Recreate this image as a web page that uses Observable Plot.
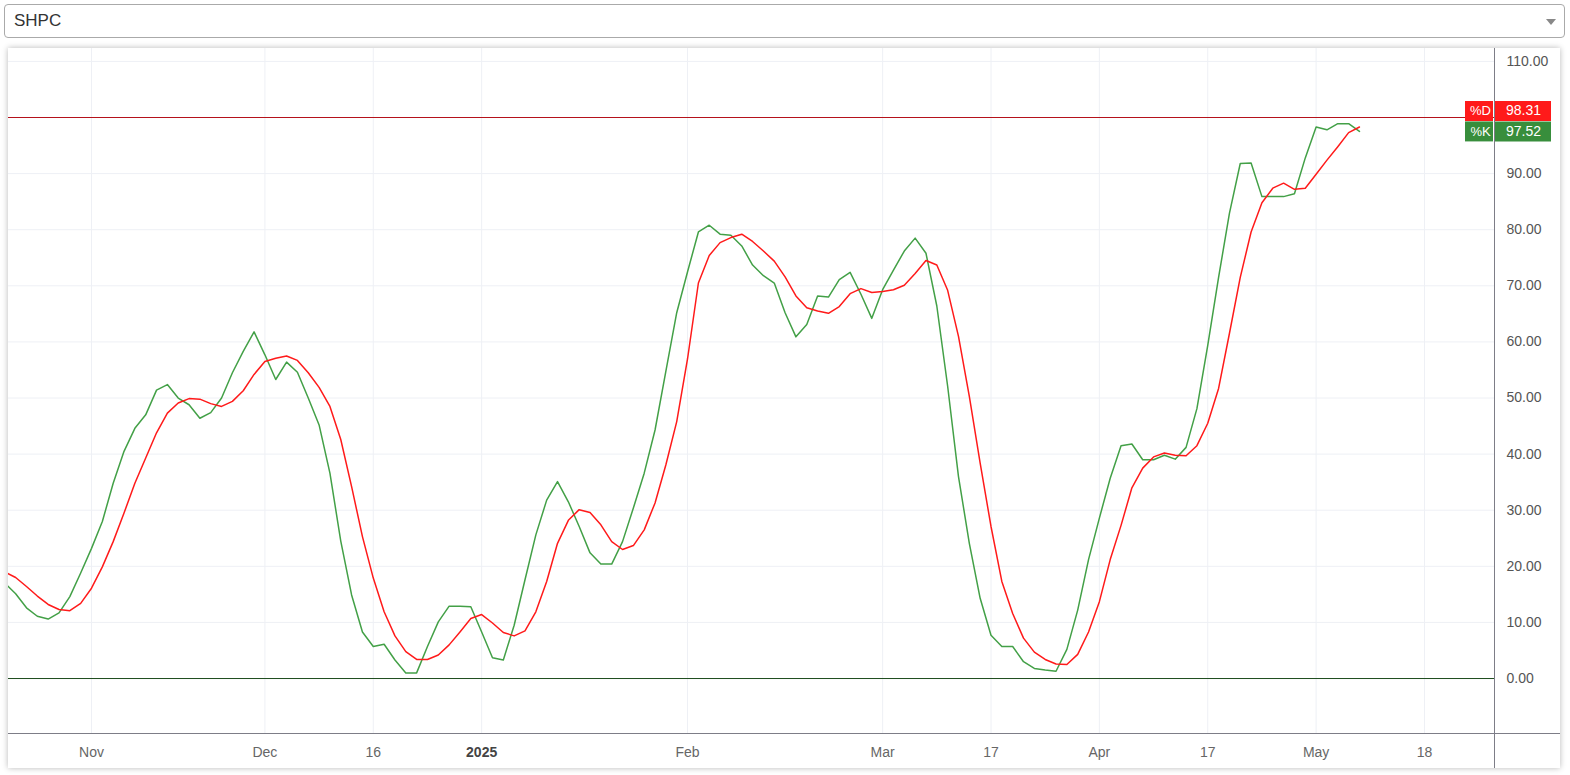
<!DOCTYPE html>
<html>
<head>
<meta charset="utf-8">
<script src="https://cdn.jsdelivr.net/npm/d3@7"></script>
<script src="https://cdn.jsdelivr.net/npm/@observablehq/plot@0.6"></script>
<style>
  html, body { margin: 0; padding: 0; background: #fff; width: 1570px; height: 775px; overflow: hidden; }
  body { position: relative; font-family: "Liberation Sans", Arial, sans-serif; }
  #select {
    position: absolute; left: 4px; top: 4px; width: 1550px; height: 32px;
    border: 1px solid #aaa; border-radius: 4px; background: #fff;
    font-size: 17px; color: #333; line-height: 32px; padding-left: 9px; box-sizing: content-box;
  }
  #select .arrow {
    position: absolute; right: 8px; top: 14px; width: 0; height: 0;
    border-left: 5px solid transparent; border-right: 5px solid transparent; border-top: 6px solid #888;
  }
  #card {
    position: absolute; left: 8px; top: 48px; width: 1552px; height: 720px;
    background: #fff; box-shadow: 0 0 6px rgba(0,0,0,0.28);
  }
  #card svg { display: block; }
</style>
</head>
<body>
<div id="select">SHPC<span class="arrow"></span></div>
<div id="card"></div>
<script>
// %K (green) values, one per trading bar
const kValues = [
  17.0, 15.1, 12.6, 11.1, 10.6, 11.7, 14.6, 18.8, 23.2, 28.0,
  34.8, 40.5, 44.6, 47.0, 51.4, 52.4, 50.0, 48.8, 46.4, 47.4,
  50.0, 54.5, 58.3, 61.8, 57.7, 53.3, 56.4, 54.6, 50.0, 45.2,
  36.6, 24.5, 14.9, 8.3, 5.7, 6.1, 3.3, 1.0, 1.0, 5.7,
  10.1, 12.9, 12.9, 12.8, 8.3, 3.7, 3.3, 9.5, 17.6, 25.6,
  31.8, 35.1, 31.5, 27.1, 22.4, 20.4, 20.4, 24.4, 30.4, 36.6,
  44.3, 54.8, 65.2, 72.5, 79.6, 80.8, 79.2, 79.0, 77.1, 73.7,
  71.8, 70.5, 65.2, 60.9, 63.1, 68.2, 68.0, 71.1, 72.4, 68.5,
  64.2, 69.3, 72.8, 76.2, 78.5, 75.8, 66.4, 52.1, 36.0, 24.1,
  14.3, 7.7, 5.7, 5.7, 3.0, 1.8, 1.5, 1.3, 5.2, 12.2,
  21.2, 28.6, 35.7, 41.5, 41.8, 39.0, 39.0, 39.8, 39.1, 41.2,
  48.1, 59.4, 71.5, 82.9, 91.8, 91.9, 85.9, 85.9, 85.9, 86.4,
  92.8, 98.3, 97.8, 98.9, 98.9, 97.52
];
// %D (red) values
const dValues = [
  19.0, 18.0, 16.4, 14.7, 13.2, 12.3, 12.1, 13.4, 16.1, 19.9,
  24.4, 29.5, 34.8, 39.3, 43.8, 47.3, 49.1, 49.9, 49.8, 49.0,
  48.5, 49.4, 51.3, 54.2, 56.5, 57.1, 57.5, 56.7, 54.5, 51.9,
  48.5, 42.6, 34.2, 25.3, 17.9, 11.9, 7.6, 4.8, 3.4, 3.4,
  4.2, 6.0, 8.3, 10.7, 11.4, 9.9, 8.2, 7.6, 8.5, 11.9,
  17.3, 24.1, 28.2, 30.1, 29.6, 27.4, 24.4, 23.0, 23.7, 26.5,
  31.3, 38.1, 45.8, 57.0, 70.5, 75.4, 77.7, 78.6, 79.2, 77.9,
  76.2, 74.4, 71.6, 68.2, 66.1, 65.5, 65.1, 66.3, 68.6, 69.5,
  68.8, 69.0, 69.3, 70.1, 72.2, 74.5, 73.7, 69.2, 61.0, 50.3,
  38.4, 27.1, 17.3, 11.6, 7.2, 4.7, 3.4, 2.6, 2.5, 4.3,
  8.3, 13.7, 21.2, 27.3, 34.0, 37.5, 39.5, 40.2, 39.8, 39.7,
  41.5, 45.5, 51.7, 61.5, 71.5, 79.6, 84.8, 87.4, 88.3, 87.2,
  87.4, 89.9, 92.4, 94.8, 97.3, 98.31
];
// time-axis tick labels and the bar index each one sits on
const xTickLabels = ["Nov", "Dec", "16", "2025", "Feb", "Mar", "17", "Apr", "17", "May", "18"];
const xTickIndex  = [8, 24, 34, 44, 63, 81, 91, 101, 111, 121, 131];
const yTicks = [0, 10, 20, 30, 40, 50, 60, 70, 80, 90, 100, 110];
// 100.00 is hidden under the price tags in the reference
const yTickLabels = [0, 10, 20, 30, 40, 50, 60, 70, 80, 90, 110];
const levelLines = [100, 0];
const seriesNames = ["%D", "%K"];

const labelAt = new Map(xTickIndex.map((d, i) => [d, xTickLabels[i]]));
const boldTicks = xTickIndex.filter(d => labelAt.get(d) === "2025");
const plainTicks = xTickIndex.filter(d => labelAt.get(d) !== "2025");
const lastD = dValues[dValues.length - 1];
const lastK = kValues[kValues.length - 1];

const GRID = "#eef0f5";
const AXIS = "#7d7d87";
const GREEN = "#43a047";
const RED = "#ff1a1a";
const TAGGREEN = "#388e3c";
const W = 1552, MR = 66;

const svg = Plot.plot({
  width: W,
  height: 720,
  marginLeft: 0,
  marginRight: MR,
  marginTop: 0,
  marginBottom: 35,
  x: { domain: [0.34, 137.46] },
  y: { domain: [-9.8, 112.3] },
  style: { fontFamily: "'Liberation Sans', Arial, sans-serif", fontSize: "14px", background: "transparent", overflow: "visible" },
  marks: [
    Plot.ruleY(yTicks, { stroke: GRID, strokeWidth: 1 }),
    Plot.ruleX(xTickIndex, { stroke: GRID, strokeWidth: 1 }),
    Plot.ruleY([levelLines[0]], { stroke: "#b5121b", strokeWidth: 1 }),
    Plot.ruleY([levelLines[1]], { stroke: "#1e4d1e", strokeWidth: 1 }),
    Plot.line(kValues, { x: (d, i) => i, y: d => d, stroke: GREEN, strokeWidth: 1.5, clip: true }),
    Plot.line(dValues, { x: (d, i) => i, y: d => d, stroke: RED, strokeWidth: 1.5, clip: true }),
    Plot.axisY(yTickLabels, { anchor: "right", tickSize: 0, tickPadding: 12, tickFormat: d => d.toFixed(2), fill: "#555", fontSize: 14 }),
    Plot.axisX(plainTicks, { anchor: "bottom", tickSize: 0, tickPadding: 14, tickFormat: d => labelAt.get(d), fill: "#666", fontSize: 14 }),
    Plot.axisX(boldTicks, { anchor: "bottom", tickSize: 0, tickPadding: 14, tickFormat: d => labelAt.get(d), fill: "#444", fontSize: 14, fontWeight: "bold" }),
    // price-tag backgrounds: thick horizontal rules placed in the right margin
    Plot.ruleY([lastD], { y: d => d, dy: -16, stroke: RED, strokeWidth: 20, insetLeft: W - MR - 29, insetRight: 1 }),
    Plot.ruleY([lastD], { y: d => d, dy: -16, stroke: RED, strokeWidth: 20, insetLeft: W - MR + 1, insetRight: -57 }),
    Plot.ruleY([lastK], { y: d => d, stroke: TAGGREEN, strokeWidth: 20, insetLeft: W - MR - 29, insetRight: 1 }),
    Plot.ruleY([lastK], { y: d => d, stroke: TAGGREEN, strokeWidth: 20, insetLeft: W - MR + 1, insetRight: -57 }),
    Plot.text([lastD], { y: d => d, frameAnchor: "right", dx: -14, dy: -16, text: () => seriesNames[0], fill: "white", fontSize: 13, textAnchor: "middle" }),
    Plot.text([lastD], { y: d => d, frameAnchor: "right", dx: 29, dy: -16, text: d => d.toFixed(2), fill: "white", fontSize: 14, textAnchor: "middle" }),
    Plot.text([lastK], { y: d => d, frameAnchor: "right", dx: -14, text: () => seriesNames[1], fill: "white", fontSize: 13, textAnchor: "middle" }),
    Plot.text([lastK], { y: d => d, frameAnchor: "right", dx: 29, text: d => d.toFixed(2), fill: "white", fontSize: 14, textAnchor: "middle" }),
    // axis lines (extend into the margins)
    Plot.ruleX([137.46], { stroke: AXIS, strokeWidth: 1, insetBottom: -35 }),
    Plot.ruleY([-9.8], { stroke: AXIS, strokeWidth: 1, insetRight: -MR })
  ]
});

document.getElementById("card").appendChild(svg);
</script>
</body>
</html>
